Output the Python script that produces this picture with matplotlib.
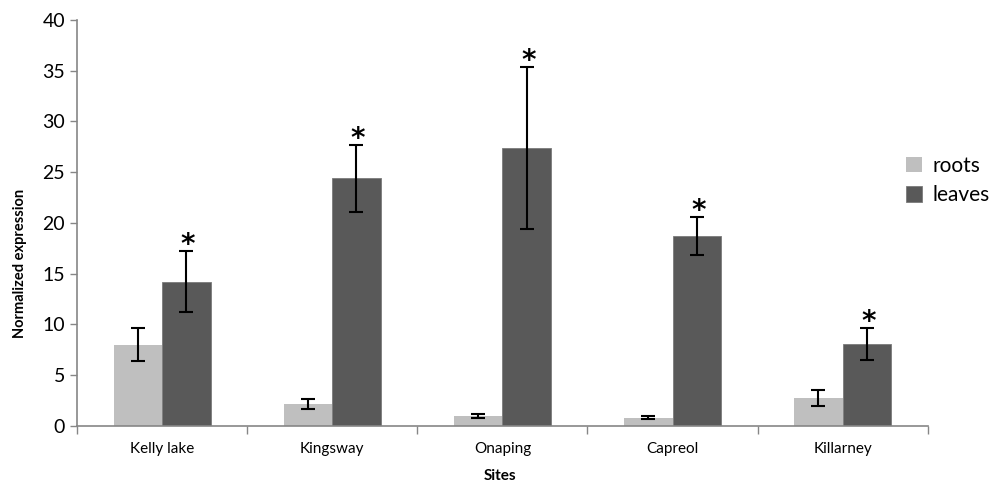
import numpy as np
import matplotlib.pyplot as plt

plt.rcParams['font.family'] = ['Lato', 'DejaVu Sans']

# Data
sites = ['Kelly lake', 'Kingsway', 'Onaping', 'Capreol', 'Killarney']
roots = [8.0, 2.1, 0.95, 0.8, 2.7]
roots_err = [1.65, 0.5, 0.23, 0.18, 0.8]
leaves = [14.2, 24.4, 27.35, 18.7, 8.05]
leaves_err = [3.0, 3.3, 8.0, 1.9, 1.57]
signif = [True, True, True, True, True]

axis_col = '#868686'

fig = plt.figure(figsize=(9.95, 4.87), dpi=100)
ax = fig.add_axes([0.0774, 0.126, 0.855, 0.833])

x = np.arange(len(sites))
w = 0.285
ekw = dict(ecolor='black', elinewidth=1.5, capsize=5, capthick=1.5)
ax.bar(x - w / 2, roots, w, color='#bfbfbf', yerr=roots_err, error_kw=ekw, label='roots')
ax.bar(x + w / 2, leaves, w, color='#595959', edgecolor='#7a7a7a', linewidth=0.6,
       yerr=leaves_err, error_kw=ekw, label='leaves')

# significance stars above leaf error bars
for xi, v, e, s in zip(x, leaves, leaves_err, signif):
    if s:
        ax.text(xi + w / 2 + 0.01, v + e - 0.8, '*', ha='center', va='bottom',
                fontsize=20, fontweight='bold', family='DejaVu Sans')

ax.set_xlim(-0.5, len(sites) - 0.5)
ax.set_ylim(0, 40)
ax.set_yticks(np.arange(0, 41, 5))
ax.tick_params(axis='y', labelsize=14, length=5, color=axis_col, width=1)

# boundary ticks on x, labels at category centres
ax.set_xticks(np.arange(-0.5, len(sites), 1.0))
ax.set_xticklabels([])
ax.tick_params(axis='x', which='major', length=6, color=axis_col, width=1)
ax.set_xticks(x, minor=True)
ax.set_xticklabels(sites, minor=True, fontsize=11)
ax.tick_params(axis='x', which='minor', length=0, pad=12)

for side in ['top', 'right']:
    ax.spines[side].set_visible(False)
for side in ['left', 'bottom']:
    ax.spines[side].set_color(axis_col)
    ax.spines[side].set_linewidth(1.2)

fig.text(500 / 995, 1 - 476 / 487, 'Sites', ha='center', va='center',
         fontsize=11, fontweight='bold')
fig.text(20 / 995, 1 - 263 / 487, 'Normalized expression', ha='center', va='center',
         rotation=90, fontsize=10.5, fontweight='bold')

ax.legend(loc='upper left', bbox_to_anchor=(906 / 995, 1 - 156 / 487),
          bbox_transform=fig.transFigure, frameon=False, fontsize=15,
          handlelength=0.75, handleheight=0.75, handletextpad=0.5,
          labelspacing=0.45, borderaxespad=0, borderpad=0)

fig.savefig('out.png', dpi=100)
